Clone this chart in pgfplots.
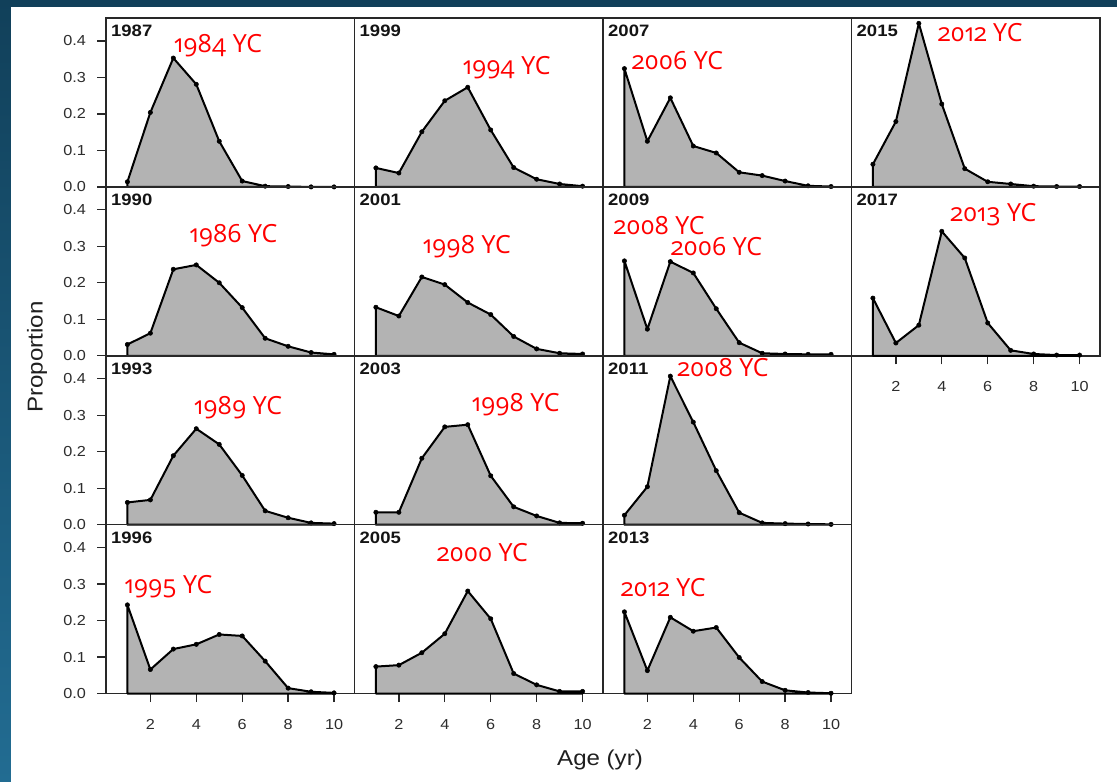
\documentclass[border=0pt]{standalone}
\usepackage{pgfplots}
\pgfplotsset{compat=1.18}
\usepackage{fontspec}
\setmainfont[FakeStretch=1.12]{Liberation Sans}
\newfontfamily\ycfont[Numbers=OldStyle]{Open Sans}
\definecolor{bgtop}{RGB}{17,64,90}
\definecolor{bgbot}{RGB}{34,108,146}
\definecolor{areagray}{RGB}{179,179,179}
\definecolor{axgray}{RGB}{40,40,40}
\definecolor{lblgray}{RGB}{45,45,45}

\pgfplotsset{
  panel/.style={
    scale only axis, width=248.5pt, height=168.9pt,
    xmin=0.068, xmax=10.89, ymin=0, ymax=0.4627,
    axis line style={axgray, line width=1.5pt},
    xtick=\empty, ytick=\empty,
    clip=false,
    anchor=north west,
    tick style={axgray, line width=1.3pt},
    tick align=outside,
    major tick length=8.5pt,
    ticklabel style={font=\fontsize{14.5}{17}\selectfont, text=lblgray},
    /pgf/number format/assume math mode=true,
  },
  yax/.style={ytick={0,0.1,0.2,0.3,0.4}, yticklabels={0.0,0.1,0.2,0.3,0.4}, ytick pos=left, yticklabel style={xshift=-8pt}},
  xax/.style={xtick={2,4,6,8,10}, xticklabels={2,4,6,8,10}, xtick pos=bottom, xticklabel style={yshift=-14pt}},
  area/.style={fill=areagray, draw=black, line width=2pt, line join=round, mark=*, mark size=2.2pt, mark options={fill=black, line width=0.5pt}},
}
\tikzset{
  ttl/.style={anchor=north west, inner sep=0pt, xshift=5pt, yshift=-7pt, font=\bfseries\fontsize{16.5}{19}\selectfont, text=black!92},
  yc/.style={anchor=base west, inner sep=0pt, text=red, font=\ycfont\fontsize{25}{28}\selectfont},
}

\begin{document}
\begin{tikzpicture}
\useasboundingbox (0,0) rectangle (1117pt,-782pt);
\fill[bgtop] (0,0) rectangle (1117pt,-782pt);
\shade[top color=bgtop, bottom color=bgbot] (0,0) rectangle (11pt,-782pt);
\fill[white] (11pt,-7pt) rectangle (1117pt,-782pt);

% Row 1
\begin{axis}[panel, yax, at={(106pt,-18pt)}]
\addplot[area] coordinates {(1,0.014) (2,0.204) (3,0.353) (4,0.281) (5,0.125) (6,0.016) (7,0.002) (8,0.001) (9,0.000) (10,0.000)} \closedcycle;
\node[ttl] at (rel axis cs:0,1) {1987};
\node[yc] at (axis cs:3.03,0.367) {1984 YC};
\end{axis}
\begin{axis}[panel, at={(354.5pt,-18pt)}]
\addplot[area] coordinates {(1,0.052) (2,0.038) (3,0.151) (4,0.236) (5,0.273) (6,0.156) (7,0.053) (8,0.021) (9,0.008) (10,0.002)} \closedcycle;
\node[ttl] at (rel axis cs:0,1) {1999};
\node[yc] at (axis cs:4.78,0.309) {1994 YC};
\end{axis}
\begin{axis}[panel, at={(603pt,-18pt)}]
\addplot[area] coordinates {(1,0.324) (2,0.125) (3,0.244) (4,0.112) (5,0.093) (6,0.040) (7,0.031) (8,0.016) (9,0.003) (10,0.001)} \closedcycle;
\node[ttl] at (rel axis cs:0,1) {2007};
\node[yc] at (axis cs:1.32,0.322) {2006 YC};
\end{axis}
\begin{axis}[panel, at={(851.5pt,-18pt)}]
\addplot[area] coordinates {(1,0.062) (2,0.179) (3,0.448) (4,0.227) (5,0.050) (6,0.014) (7,0.008) (8,0.002) (9,0.001) (10,0.001)} \closedcycle;
\node[ttl] at (rel axis cs:0,1) {2015};
\node[yc] at (axis cs:3.82,0.398) {2012 YC};
\end{axis}

% Row 2
\begin{axis}[panel, yax, at={(106pt,-186.9pt)}]
\addplot[area] coordinates {(1,0.031) (2,0.062) (3,0.237) (4,0.249) (5,0.200) (6,0.132) (7,0.048) (8,0.026) (9,0.009) (10,0.004)} \closedcycle;
\node[ttl] at (rel axis cs:0,1) {1990};
\node[yc] at (axis cs:3.70,0.311) {1986 YC};
\end{axis}
\begin{axis}[panel, at={(354.5pt,-186.9pt)}]
\addplot[area] coordinates {(1,0.133) (2,0.109) (3,0.216) (4,0.195) (5,0.146) (6,0.113) (7,0.053) (8,0.019) (9,0.007) (10,0.005)} \closedcycle;
\node[ttl] at (rel axis cs:0,1) {2001};
\node[yc] at (axis cs:3.04,0.281) {1998 YC};
\end{axis}
\begin{axis}[panel, at={(603pt,-186.9pt)}]
\addplot[area] coordinates {(1,0.260) (2,0.073) (3,0.258) (4,0.227) (5,0.129) (6,0.036) (7,0.007) (8,0.005) (9,0.004) (10,0.004)} \closedcycle;
\node[ttl] at (rel axis cs:0,1) {2009};
\node[yc] at (axis cs:0.52,0.333) {2008 YC};
\node[yc] at (axis cs:3.02,0.275) {2006 YC};
\end{axis}
\begin{axis}[panel, xax, at={(851.5pt,-186.9pt)}]
\addplot[area] coordinates {(1,0.158) (2,0.035) (3,0.084) (4,0.341) (5,0.268) (6,0.090) (7,0.015) (8,0.005) (9,0.002) (10,0.002)} \closedcycle;
\node[ttl] at (rel axis cs:0,1) {2017};
\node[yc] at (axis cs:4.36,0.367) {2013 YC};
\end{axis}

% Row 3
\begin{axis}[panel, yax, at={(106pt,-355.8pt)}]
\addplot[area] coordinates {(1,0.061) (2,0.068) (3,0.189) (4,0.263) (5,0.220) (6,0.135) (7,0.038) (8,0.019) (9,0.005) (10,0.003)} \closedcycle;
\node[ttl] at (rel axis cs:0,1) {1993};
\node[yc] at (axis cs:3.90,0.303) {1989 YC};
\end{axis}
\begin{axis}[panel, at={(354.5pt,-355.8pt)}]
\addplot[area] coordinates {(1,0.034) (2,0.034) (3,0.182) (4,0.268) (5,0.274) (6,0.134) (7,0.049) (8,0.024) (9,0.005) (10,0.004)} \closedcycle;
\node[ttl] at (rel axis cs:0,1) {2003};
\node[yc] at (axis cs:5.17,0.310) {1998 YC};
\end{axis}
\begin{axis}[panel, at={(603pt,-355.8pt)}]
\addplot[area] coordinates {(1,0.026) (2,0.104) (3,0.407) (4,0.281) (5,0.148) (6,0.033) (7,0.005) (8,0.003) (9,0.002) (10,0.001)} \closedcycle;
\node[ttl] at (rel axis cs:0,1) {2011};
\node[yc] at (axis cs:3.30,0.405) {2008 YC};
\end{axis}

% Row 4
\begin{axis}[panel, yax, xax, at={(106pt,-524.7pt)}]
\addplot[area] coordinates {(1,0.243) (2,0.066) (3,0.122) (4,0.135) (5,0.162) (6,0.158) (7,0.089) (8,0.015) (9,0.005) (10,0.002)} \closedcycle;
\node[ttl] at (rel axis cs:0,1) {1996};
\node[yc] at (axis cs:0.87,0.275) {1995 YC};
\end{axis}
\begin{axis}[panel, xax, at={(354.5pt,-524.7pt)}]
\addplot[area] coordinates {(1,0.074) (2,0.078) (3,0.112) (4,0.164) (5,0.281) (6,0.205) (7,0.055) (8,0.024) (9,0.006) (10,0.006)} \closedcycle;
\node[ttl] at (rel axis cs:0,1) {2005};
\node[yc] at (axis cs:3.65,0.362) {2000 YC};
\end{axis}
\begin{axis}[panel, xax, at={(603pt,-524.7pt)}]
\addplot[area] coordinates {(1,0.224) (2,0.063) (3,0.209) (4,0.171) (5,0.181) (6,0.099) (7,0.033) (8,0.009) (9,0.003) (10,0.001)} \closedcycle;
\node[ttl] at (rel axis cs:0,1) {2013};
\node[yc] at (axis cs:0.84,0.266) {2012 YC};
\end{axis}

% Axis titles
\node[rotate=90, font=\fontsize{21.5}{26}\selectfont, text=black!88] at (37pt,-357pt) {Proportion};
\node[anchor=base, inner sep=0pt, font=\fontsize{21.5}{26}\selectfont, text=black!88] at (600pt,-765pt) {Age (yr)};
\end{tikzpicture}
\end{document}
